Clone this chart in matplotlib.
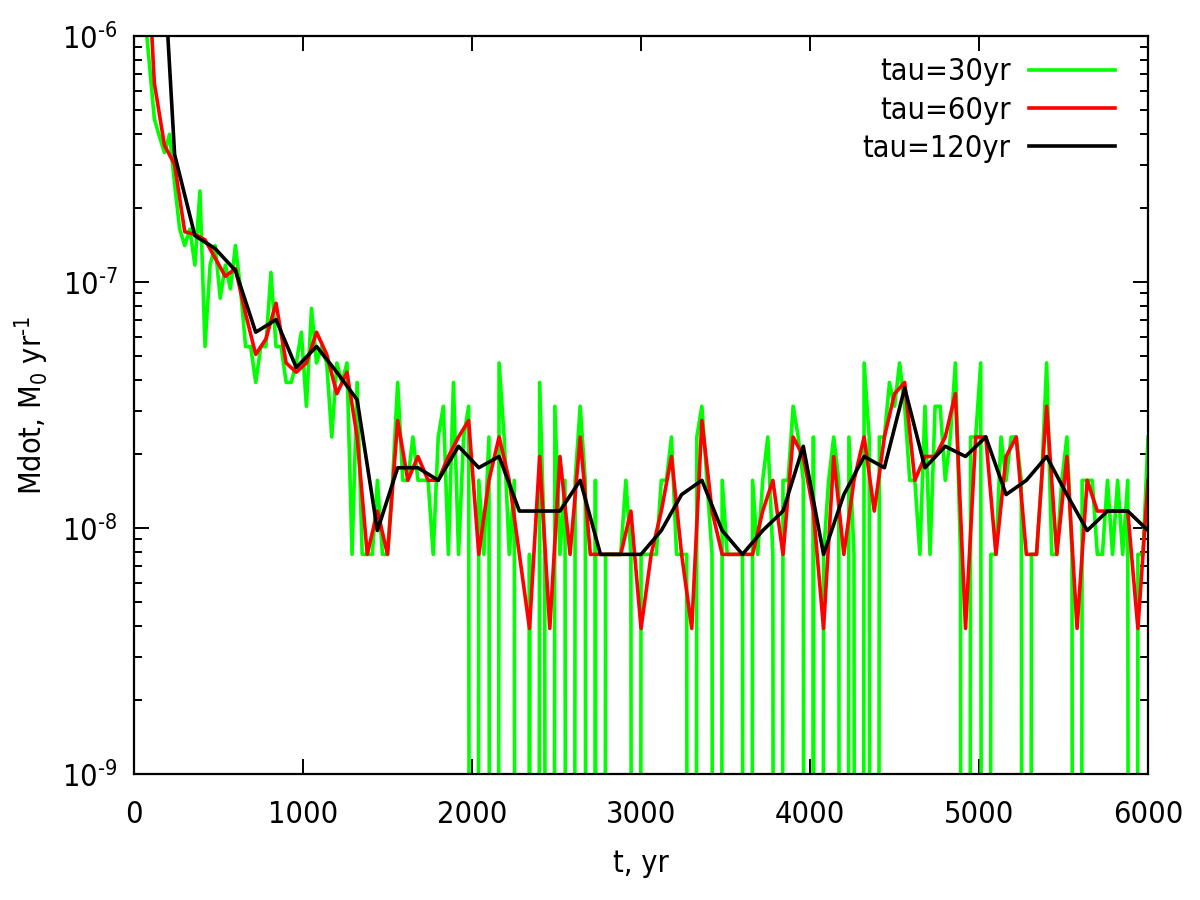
import numpy as np
import matplotlib
matplotlib.use('Agg')
import matplotlib.pyplot as plt

# accretion counts per time bin (1 count = 1/128 of 1e-6 M0 per 30 yr)
t30 = np.arange(0, 6001, 30)
n30 = [1282, 385, 169, 100, 59, 50, 43, 51, 32, 21, 18, 21, 15, 30, 7, 15, 18, 11, 15, 12,
       18, 12, 7, 7, 5, 7, 7, 14, 7, 7, 5, 5, 6, 8, 4, 10, 6, 7, 6, 3,
       6, 5, 6, 1, 5, 1, 1, 1, 2, 1, 1, 2, 5, 2, 2, 3, 2, 2, 2, 1,
       3, 4, 1, 5, 1, 3, 4, 0, 2, 1, 3, 0, 6, 3, 1, 2, 0, 0, 1, 0,
       5, 1, 0, 4, 1, 2, 0, 2, 4, 2, 0, 2, 0, 1, 1, 1, 1, 2, 1, 0,
       1, 1, 1, 1, 2, 2, 3, 1, 1, 1, 0, 3, 4, 2, 1, 0, 2, 1, 1, 1,
       1, 0, 2, 1, 2, 3, 1, 0, 2, 2, 4, 3, 2, 0, 3, 0, 1, 2, 3, 2,
       0, 3, 1, 0, 6, 3, 0, 3, 3, 5, 4, 6, 4, 2, 2, 1, 4, 1, 4, 4,
       2, 3, 6, 1, 0, 3, 3, 6, 0, 1, 1, 3, 2, 3, 3, 2, 0, 1, 1, 2,
       6, 1, 1, 2, 3, 1, 0, 2, 2, 2, 1, 1, 2, 1, 2, 1, 2, 0, 1, 1,
       3]

t60 = np.arange(0, 6001, 60)
n60 = [5128, 1041, 165, 92, 77, 41, 40, 38, 32, 27, 29, 19, 13, 15, 21, 12, 11, 12, 16, 13,
       9, 11, 6, 2, 3, 2, 7, 4, 5, 4, 4, 5, 6, 7, 2, 4, 6, 4, 2, 1,
       5, 1, 5, 2, 6, 2, 2, 2, 2, 3, 1, 2, 3, 5, 2, 1, 7, 3, 2, 2,
       2, 2, 3, 4, 2, 6, 5, 3, 1, 5, 2, 4, 6, 3, 6, 9, 10, 4, 5, 5,
       6, 9, 1, 6, 6, 2, 5, 6, 2, 2, 8, 2, 5, 1, 4, 3, 3, 3, 3, 1,
       4]

t120 = np.arange(0, 6001, 120)
n120 = [15385, 4718, 169, 79, 70, 57, 32, 36, 23, 28, 22, 17, 5, 9, 9, 8, 11, 9, 10, 6,
        6, 6, 8, 4, 4, 4, 5, 7, 8, 5, 4, 5, 6, 11, 4, 7, 10, 9, 19, 9,
        11, 10, 12, 7, 8, 10, 7, 5, 6, 6, 5]

unit30 = 1e-6 / 128
labels = ['tau=30yr', 'tau=60yr', 'tau=120yr']
colors = ['#00ff00', '#ff0000', '#000000']
ytick_pos = [1e-9, 1e-8, 1e-7, 1e-6]
ytick_txt = ['$10^{\u2010 9}$', '$10^{\u2010 8}$', '$10^{\u2010 7}$', '$10^{\u2010 6}$']


def mdot(counts, unit):
    c = np.array(counts, dtype=float)
    # empty bins have no log value; push them far below the axis
    return np.where(c > 0, c * unit, 1e-30)


plt.rcParams['font.family'] = ['DejaVu Sans']
plt.rcParams['font.stretch'] = 'condensed'
plt.rcParams['mathtext.default'] = 'regular'
fs = 22

fig = plt.figure(figsize=(12, 9), dpi=100)
ax = fig.add_axes([0.1117, 0.14, 0.845, 0.82])

ax.plot(t30, mdot(n30, unit30), color=colors[0], lw=2.6, label=labels[0])
ax.plot(t60, mdot(n60, unit30 / 2), color=colors[1], lw=2.6, label=labels[1])
ax.plot(t120, mdot(n120, unit30 / 4), color=colors[2], lw=2.6, label=labels[2])

ax.set_yscale('log')
ax.set_xlim(0, 6000)
ax.set_ylim(1e-9, 1e-6)
ax.set_xticks(range(0, 6001, 1000))
ax.set_yticks(ytick_pos)
ax.set_yticklabels(ytick_txt)
ax.tick_params(which='both', direction='in', top=True, right=True, labelsize=fs)
ax.tick_params(which='major', length=10.5, width=1.4)
ax.tick_params(which='minor', length=5.5, width=1.4)
ax.tick_params(axis='x', pad=19)
ax.tick_params(axis='y', pad=12)
for s in ax.spines.values():
    s.set_linewidth(1.6)

ax.set_xlabel('t, yr', fontsize=fs, labelpad=14)
ax.set_ylabel('Mdot, M$_0$ yr$^{\u20101}$', fontsize=fs, labelpad=8)

ax.legend(loc='upper right', bbox_to_anchor=(0.967, 0.971), frameon=False,
          markerfirst=False, fontsize=fs, handlelength=2.8, handletextpad=0.6,
          labelspacing=0.3, borderpad=0, borderaxespad=0)

fig.savefig('out.png', dpi=100)
